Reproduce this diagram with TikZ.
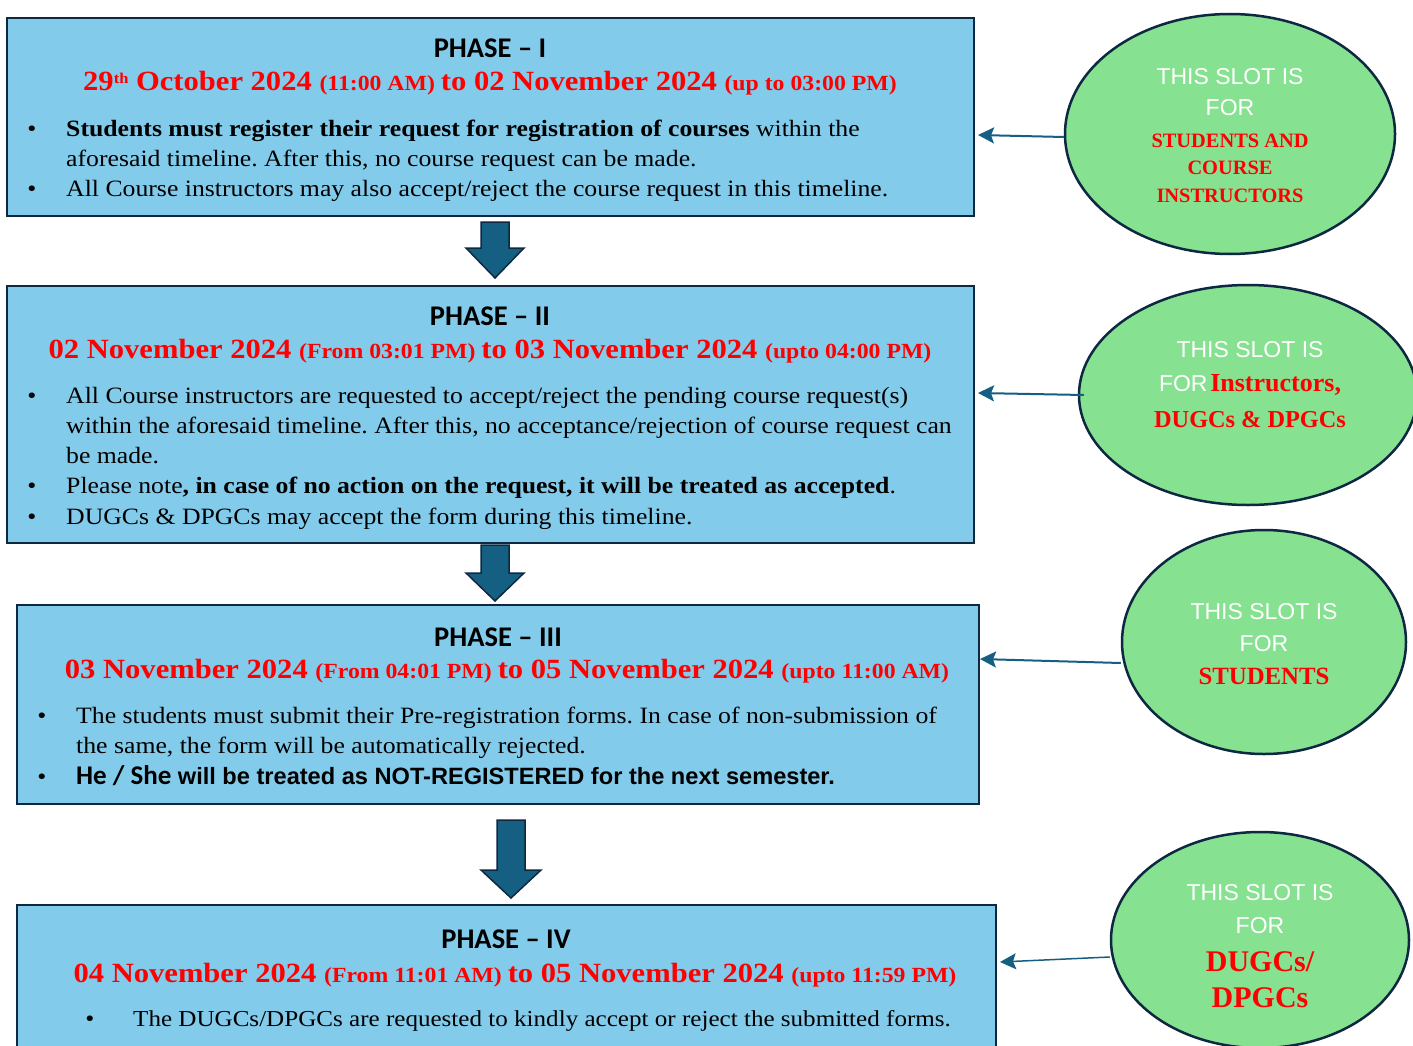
\documentclass[tikz,border=0pt]{standalone}
\usepackage{fontspec}
\setmainfont{Liberation Serif}[FakeStretch=1.1]
\newfontfamily\calib{Carlito}
\newfontfamily\arialf{Liberation Sans}
\newfontfamily\redserif{Liberation Serif}
\usetikzlibrary{arrows.meta,shapes.geometric}
\definecolor{boxblue}{HTML}{83CBEB}
\definecolor{navy}{HTML}{0E2841}
\definecolor{steel}{HTML}{156082}
\definecolor{slotgreen}{HTML}{86E291}
\newcommand{\dbig}{\fontsize{27.8}{30}\selectfont}
\newcommand{\dsm}{\fontsize{21.6}{30}\selectfont}
\frenchspacing
\tikzset{
  phasebox/.style={draw=navy, line width=2.5pt, fill=boxblue, inner sep=0pt},
  slot/.style={ellipse, draw=navy, line width=2.5pt, fill=slotgreen, inner sep=0pt},
  link/.style={steel, line width=2pt, -{Stealth[length=16pt,width=16pt,inset=3pt]}},
  downarrow/.style={fill=steel, draw=navy, line width=1.5pt, line join=miter},
  ttl/.style={anchor=base, inner sep=0pt, font=\calib\bfseries\fontsize{28.5}{30}\selectfont},
  datel/.style={anchor=base, inner sep=0pt, text=red, font=\bfseries},
  txt/.style={anchor=base west, inner sep=0pt, font=\fontsize{23.4}{28}\selectfont},
  dot/.style={anchor=base, inner sep=0pt, font=\fontsize{23.4}{28}\selectfont},
  white/.style={anchor=base, inner sep=0pt, text=white, font=\arialf\fontsize{23}{26}\selectfont},
  redw/.style={anchor=base, inner sep=0pt, text=red, font=\redserif\bfseries\fontsize{#1}{#1}\selectfont}
}

\begin{document}
\begin{tikzpicture}[x=1pt,y=-1pt]
  \useasboundingbox (0,0) rectangle (1413,1046);

  % Phase boxes
  \node[phasebox, minimum width=967pt, minimum height=198pt] (p1) at (490.5,117) {};
  \node[phasebox, minimum width=967pt, minimum height=257pt] (p2) at (490.5,414.5) {};
  \node[phasebox, minimum width=962pt, minimum height=199pt] (p3) at (498,704.5) {};
  \node[phasebox, minimum width=979pt, minimum height=195pt] (p4) at (506.5,1002.5) {};

  % Phase I
  \node[ttl] (p1t) at (490,58) {PHASE – I};
  \node[datel] (p1d) at (490,91) {\dbig 29{\raisebox{7pt}{\fontsize{15}{15}\selectfont th}} October 2024 \dsm(11:00 AM) \dbig to 02 November 2024 \dsm(up to 03:00 PM)};
  \node[dot] (p1b1) at (32,136) {•};
  \node[txt] (p1l1) at (66,136) {\textbf{Students must register their request for registration of courses} within the};
  \node[txt] (p1l2) at (66,166) {aforesaid timeline. After this, no course request can be made.};
  \node[dot] (p1b2) at (32,196) {•};
  \node[txt] (p1l3) at (66,196) {All Course instructors may also accept/reject the course request in this timeline.};

  % Phase II
  \node[ttl] (p2t) at (490,325) {PHASE – II};
  \node[datel] (p2d) at (490,358) {\dbig 02 November 2024 \dsm(From 03:01 PM) \dbig to 03 November 2024 \dsm(upto 04:00 PM)};
  \node[dot] (p2b1) at (32,403) {•};
  \node[txt] (p2l1) at (66,403) {All Course instructors are requested to accept/reject the pending course request(s)};
  \node[txt] (p2l2) at (66,433) {within the aforesaid timeline. After this, no acceptance/rejection of course request can};
  \node[txt] (p2l3) at (66,463) {be made.};
  \node[dot] (p2b2) at (32,493) {•};
  \node[txt] (p2l4) at (66,493) {Please note\textbf{, in case of no action on the request, it will be treated as accepted}.};
  \node[dot] (p2b3) at (32,524) {•};
  \node[txt] (p2l5) at (66,524) {DUGCs \& DPGCs may accept the form during this timeline.};

  % Phase III
  \node[ttl] (p3t) at (498,646) {PHASE – III};
  \node[datel] (p3d) at (507,678) {\dbig 03 November 2024 \dsm(From 04:01 PM) \dbig to 05 November 2024 \dsm(upto 11:00 AM)};
  \node[dot] (p3b1) at (42,723) {•};
  \node[txt] (p3l1) at (76,723) {The students must submit their Pre-registration forms. In case of non-submission of};
  \node[txt] (p3l2) at (76,753) {the same, the form will be automatically rejected.};
  \node[dot] (p3b2) at (42,784) {•};
  \node[txt] (p3l3) at (76,784) {{\calib\bfseries\fontsize{27}{28}\selectfont He / She} {\arialf\bfseries\fontsize{23.6}{28}\selectfont will be treated as NOT-REGISTERED for the next semester.}};

  % Phase IV
  \node[ttl] (p4t) at (506,948) {PHASE – IV};
  \node[datel] (p4d) at (515,982) {\dbig 04 November 2024 \dsm(From 11:01 AM) \dbig to 05 November 2024 \dsm(upto 11:59 PM)};
  \node[dot] (p4b1) at (90,1026) {•};
  \node[txt, font=\fontsize{22.8}{28}\selectfont] (p4l1) at (133,1026) {The DUGCs/DPGCs are requested to kindly accept or reject the submitted forms.};

  % Block arrows between phases
  \draw[downarrow] (481,222) -- (509,222) -- (509,248) -- (524,248) -- (495,278) -- (466,248) -- (481,248) -- cycle;
  \draw[downarrow] (481,545) -- (509,545) -- (509,573) -- (524,573) -- (495,601) -- (466,573) -- (481,573) -- cycle;
  \draw[downarrow] (497,820) -- (525,820) -- (525,870) -- (541,870) -- (511,898) -- (481,870) -- (497,870) -- cycle;

  % Slot ellipses
  \node[slot, minimum width=330pt, minimum height=240pt] (s1) at (1230,134) {};
  \node[slot, minimum width=338pt, minimum height=220pt] (s2) at (1248,395) {};
  \node[slot, minimum width=284pt, minimum height=224pt] (s3) at (1264,642) {};
  \node[slot, minimum width=298pt, minimum height=216pt] (s4) at (1260,940) {};

  \node[white] (s1a) at (1230,85) {THIS SLOT IS};
  \node[white] (s1b) at (1230,116) {FOR};
  \node[redw=20.4] (s1c) at (1230,147) {STUDENTS AND};
  \node[redw=20.4] (s1d) at (1230,174) {COURSE};
  \node[redw=20.4] (s1e) at (1230,202) {INSTRUCTORS};

  \node[white] (s2a) at (1250,357) {THIS SLOT IS};
  \node[anchor=base, inner sep=0pt] (s2b) at (1250,391) {\textcolor{white}{\arialf\fontsize{23}{26}\selectfont FOR} \textcolor{red}{\redserif\bfseries\fontsize{26}{26}\selectfont Instructors,}};
  \node[redw=24.3] (s2c) at (1250,427) {DUGCs \& DPGCs};

  \node[white] (s3a) at (1264,619) {THIS SLOT IS};
  \node[white] (s3b) at (1264,651) {FOR};
  \node[redw=24.8] (s3c) at (1264,684) {STUDENTS};

  \node[white] (s4a) at (1260,900) {THIS SLOT IS};
  \node[white] (s4b) at (1260,933) {FOR};
  \node[redw=30] (s4c) at (1260,971) {DUGCs/};
  \node[redw=30] (s4d) at (1260,1007) {DPGCs};

  % Links from slots to phases
  \coordinate (t1) at (978,135);
  \coordinate (t2) at (978,393);
  \coordinate (t3) at (980,659);
  \coordinate (t4) at (1000,962);
  \draw[link] ([yshift=-3pt]s1.west) -- (t1);
  \draw[link] ([xshift=6pt]s2.west) -- (t2);
  \draw[link] ([yshift=-21pt]s3.west) -- (t3);
  \draw[link, line width=1.5pt] ([yshift=-17pt]s4.west) -- (t4);
\end{tikzpicture}
\end{document}
